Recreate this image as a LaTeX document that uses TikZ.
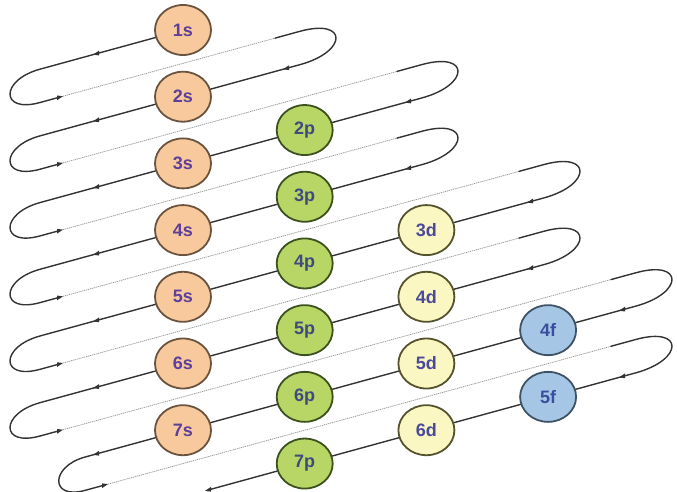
\documentclass[tikz,border=0pt]{standalone}
\usepackage{fontspec}
\newfontfamily\lab{Liberation Sans}
\usetikzlibrary{shapes.geometric}
\definecolor{linec}{HTML}{333333}
\definecolor{backc}{HTML}{9A9A9A}
\definecolor{sfill}{HTML}{F8C99D}
\definecolor{sline}{HTML}{6A5440}
\definecolor{stext}{HTML}{5E3F9A}
\definecolor{pfill}{HTML}{B7D665}
\definecolor{pline}{HTML}{3D5020}
\definecolor{ptext}{HTML}{3F4A7F}
\definecolor{dfill}{HTML}{FBF7C3}
\definecolor{dline}{HTML}{55532E}
\definecolor{dtext}{HTML}{4A4A9C}
\definecolor{ffill}{HTML}{A6C6E6}
\definecolor{fline}{HTML}{3F5366}
\definecolor{ftext}{HTML}{3A4E9E}
\tikzset{
  helix/.style={draw=linec, line width=1.4pt, line cap=round},
  backline/.style={draw=backc, line width=0.8pt, dash pattern=on 1.2pt off 0.8pt},
  orb/.style={ellipse, minimum width=56pt, minimum height=50pt, inner sep=0pt,
    line width=1.8pt, font={\lab\bfseries\fontsize{18}{18}\selectfont}},
  sorb/.style={orb, fill=sfill, draw=sline, text=stext},
  porb/.style={orb, fill=pfill, draw=pline, text=ptext},
  dorb/.style={orb, fill=dfill, draw=dline, text=dtext},
  forb/.style={orb, fill=ffill, draw=fline, text=ftext},
}
% arrow tips along the helix (in skewed coordinates)
\newcommand{\tipleft}[2]{\fill[linec] (#1,#2) -- ++(6,-2.4) -- ++(0,4.8) -- cycle;}
\newcommand{\tipright}[2]{\fill[linec] (#1,#2) -- ++(-6,-2.4) -- ++(0,4.8) -- cycle;}
\begin{document}
\begin{tikzpicture}[x={(1pt,0.274pt)}, y={(0pt,-1pt)}]
\useasboundingbox (0pt,0pt) rectangle (677pt,-492pt);
\begin{scope}
\clip (0pt,0pt) rectangle (677pt,-492pt);
% dotted back lines
\foreach \n/\L/\R in {1/40/300,2/40/422,3/40/422,4/40/544,5/40/544,6/40/636,7/85/636}{
  \pgfmathsetmacro\vb{113.49+66.7*(\n-1)}
  \draw[backline] (\L+23,\vb) -- (\R-25,\vb);
  \tipright{\L+23}{\vb}
}
% first front line from 1s
\draw[helix] (183,80.14) -- (40,80.14) .. controls +(-40,0) and +(-40,0) .. (40,113.49) -- (60,113.49);
% turns: right loop of row n, then front line n+1 with left loop
\foreach \n/\R/\Ln/\c in {1/300/40/40,2/422/40/40,3/422/40/40,4/544/40/40,5/544/40/40,6/636/85/35}{
  \pgfmathsetmacro\vb{113.49+66.7*(\n-1)}
  \pgfmathsetmacro\vn{146.84+66.7*(\n-1)}
  \pgfmathsetmacro\vbn{\vn+33.35}
  \draw[helix] (\R-25,\vb) -- (\R,\vb) .. controls +(48,0) and +(48,0) .. (\R,\vn)
     -- (\Ln,\vn) .. controls +(-\c,0) and +(-\c,0) .. (\Ln,\vbn) -- (\Ln+20,\vbn);
  \tipleft{\R-17}{\vn}
}
% last turn and front line 8
\draw[helix] (611,513.69) -- (636,513.69) .. controls +(48,0) and +(48,0) .. (636,547.04) -- (210,547.04);
\tipleft{619}{547.04}
\tipleft{205}{547.04}
% dots near the left ends of front lines
\foreach \n in {1,...,7}{
  \pgfmathsetmacro\vf{80.14+66.7*(\n-1)}
  \tipleft{93}{\vf}
}
\end{scope}
% orbitals
\foreach \k in {1,...,7}{
  \node[sorb] (s\k) at (183,{80.14+66.7*(\k-1)}) {\k s};
}
\foreach \k in {2,...,7}{
  \node[porb] (p\k) at (304.7,{80.14+66.7*\k}) {\k p};
}
\foreach \k in {3,...,6}{
  \node[dorb] (d\k) at (426.4,{80.14+66.7*(\k+1)}) {\k d};
}
\foreach \k in {4,5}{
  \node[forb] (f\k) at (548.1,{80.14+66.7*(\k+2)}) {\k f};
}
\end{tikzpicture}
\end{document}
